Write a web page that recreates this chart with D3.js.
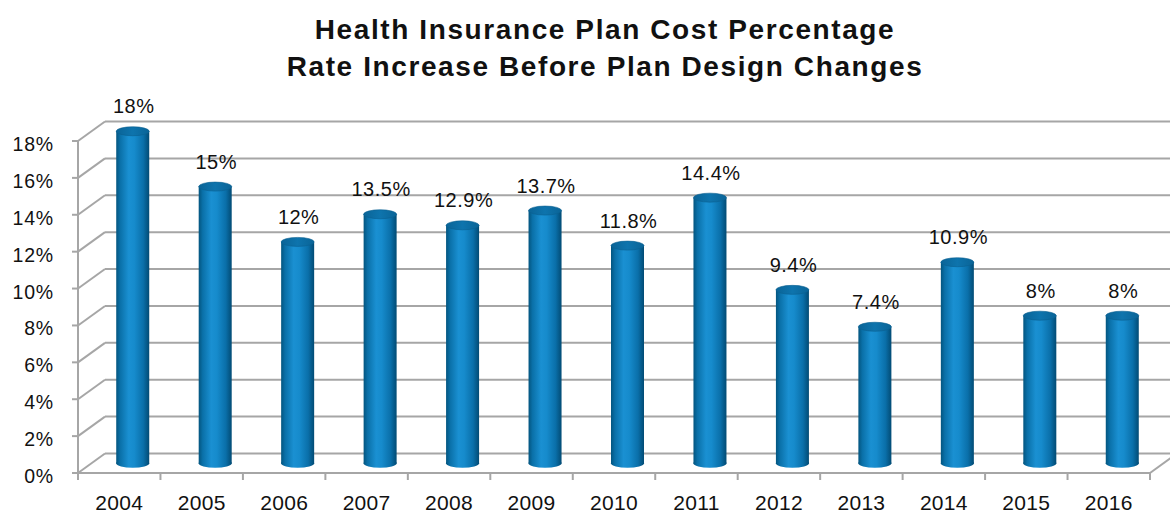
<!DOCTYPE html>
<html>
<head>
<meta charset="utf-8">
<script src="https://cdn.jsdelivr.net/npm/d3@7"></script>
<style>
  html, body { margin: 0; padding: 0; background: #fff; }
  svg { display: block; }
</style>
</head>
<body>
<svg id="chart" width="1170" height="518"></svg>
<script>
const categories = ["2004","2005","2006","2007","2008","2009","2010","2011","2012","2013","2014","2015","2016"];
const values = [18, 15, 12, 13.5, 12.9, 13.7, 11.8, 14.4, 9.4, 7.4, 10.9, 8, 8];
const valueLabels = ["18%","15%","12%","13.5%","12.9%","13.7%","11.8%","14.4%","9.4%","7.4%","10.9%","8%","8%"];
const yTicks = [0, 2, 4, 6, 8, 10, 12, 14, 16, 18];
const titleLines = ["Health Insurance Plan Cost Percentage", "Rate Increase Before Plan Design Changes"];

const W = 1170, H = 518;
const svg = d3.select("#chart");
const dx = 27, dy = -19.5;           // depth offset
const x0 = 78, x1 = 1150, yBase = 473, yTop = 141;

const x = d3.scaleBand().domain(categories).range([x0, x1]).paddingInner(0).paddingOuter(0);
const y = d3.scaleLinear().domain([0, 18]).range([yBase, yTop]);

const grid = "#a6a6a6";
const font = "Liberation Sans, Arial, sans-serif";
const defs = svg.append("defs");
const grad = defs.append("linearGradient").attr("id", "cyl").attr("x1", "0%").attr("x2", "100%");
[[0, "#03557f"], [0.12, "#0a70a8"], [0.38, "#1a90d2"], [0.55, "#168bcc"], [0.82, "#0a6fa9"], [1, "#024b74"]]
  .forEach(([o, c]) => grad.append("stop").attr("offset", o).attr("stop-color", c));
const gradTop = defs.append("linearGradient").attr("id", "cylTop").attr("x1", "0%").attr("x2", "100%");
[[0, "#0a6497"], [0.5, "#0e74ad"], [1, "#0a6497"]]
  .forEach(([o, c]) => gradTop.append("stop").attr("offset", o).attr("stop-color", c));

// back wall gridlines
const g = svg.append("g");
g.selectAll("line.back").data(yTicks).join("line")
  .attr("x1", x0 + dx).attr("x2", W)
  .attr("y1", d => y(d) + dy).attr("y2", d => y(d) + dy)
  .attr("stroke", grid).attr("stroke-width", 2);
// left wall diagonals
g.selectAll("line.side").data(yTicks).join("line")
  .attr("x1", x0).attr("x2", x0 + dx)
  .attr("y1", d => y(d)).attr("y2", d => y(d) + dy)
  .attr("stroke", grid).attr("stroke-width", 2);
// front vertical axis
g.append("line").attr("x1", x0).attr("x2", x0).attr("y1", yTop).attr("y2", yBase)
  .attr("stroke", grid).attr("stroke-width", 2);
// y ticks
g.selectAll("line.yt").data(yTicks).join("line")
  .attr("x1", x0 - 6).attr("x2", x0).attr("y1", d => y(d)).attr("y2", d => y(d))
  .attr("stroke", grid).attr("stroke-width", 2);
// floor front edge and right diagonal
g.append("line").attr("x1", x0).attr("x2", x1).attr("y1", yBase).attr("y2", yBase)
  .attr("stroke", grid).attr("stroke-width", 2);
g.append("line").attr("x1", x1).attr("x2", x1 + dx).attr("y1", yBase).attr("y2", yBase + dy)
  .attr("stroke", grid).attr("stroke-width", 2);
// x ticks
const bounds = categories.map(c => x(c)).concat([x1]);
g.selectAll("line.xt").data(bounds).join("line")
  .attr("x1", d => d).attr("x2", d => d).attr("y1", yBase).attr("y2", yBase + 7)
  .attr("stroke", grid).attr("stroke-width", 2);

// y labels
svg.append("g").selectAll("text").data(yTicks).join("text")
  .attr("x", 54).attr("y", d => y(d) + 10)
  .attr("text-anchor", "end")
  .attr("font-family", font).attr("font-size", 19.5)
  .attr("letter-spacing", 0.8)
  .attr("fill", "#111").text(d => d + "%");

// x labels
svg.append("g").selectAll("text").data(categories).join("text")
  .attr("x", d => x(d) + x.bandwidth() / 2).attr("y", 510)
  .attr("text-anchor", "middle")
  .attr("font-family", font).attr("font-size", 21)
  .attr("letter-spacing", 0.3)
  .attr("fill", "#111").text(d => d);

// cylinders
const rx = 16.5, ry = 4.5;
const bars = svg.append("g").selectAll("g").data(categories.map((c, i) => ({ c, v: values[i], l: valueLabels[i] }))).join("g");
const cx = d => x(d.c) + x.bandwidth() / 2 + dx / 2;
const cyV = v => y(v) + dy / 2;
bars.append("ellipse")
  .attr("cx", cx).attr("cy", cyV(0)).attr("rx", rx).attr("ry", ry).attr("fill", "url(#cyl)");
bars.append("rect")
  .attr("x", d => cx(d) - rx).attr("width", 2 * rx)
  .attr("y", d => cyV(d.v)).attr("height", d => cyV(0) - cyV(d.v))
  .attr("fill", "url(#cyl)");
bars.append("ellipse")
  .attr("cx", cx).attr("cy", d => cyV(d.v)).attr("rx", rx).attr("ry", ry)
  .attr("fill", "url(#cylTop)").attr("stroke", "#0a5f90").attr("stroke-width", 0.6);

// value labels
bars.append("text")
  .attr("x", d => cx(d) + 1).attr("y", d => cyV(d.v) - 18)
  .attr("text-anchor", "middle")
  .attr("font-family", font).attr("font-size", 20)
  .attr("letter-spacing", 0.5)
  .attr("fill", "#111").text(d => d.l);

// title
svg.append("g").selectAll("text").data(titleLines).join("text")
  .attr("x", 605).attr("y", (d, i) => 39 + i * 37)
  .attr("text-anchor", "middle")
  .attr("font-family", font).attr("font-weight", "bold")
  .attr("font-size", 28).attr("letter-spacing", 1.6)
  .attr("fill", "#111").text(d => d);
</script>
</body>
</html>
